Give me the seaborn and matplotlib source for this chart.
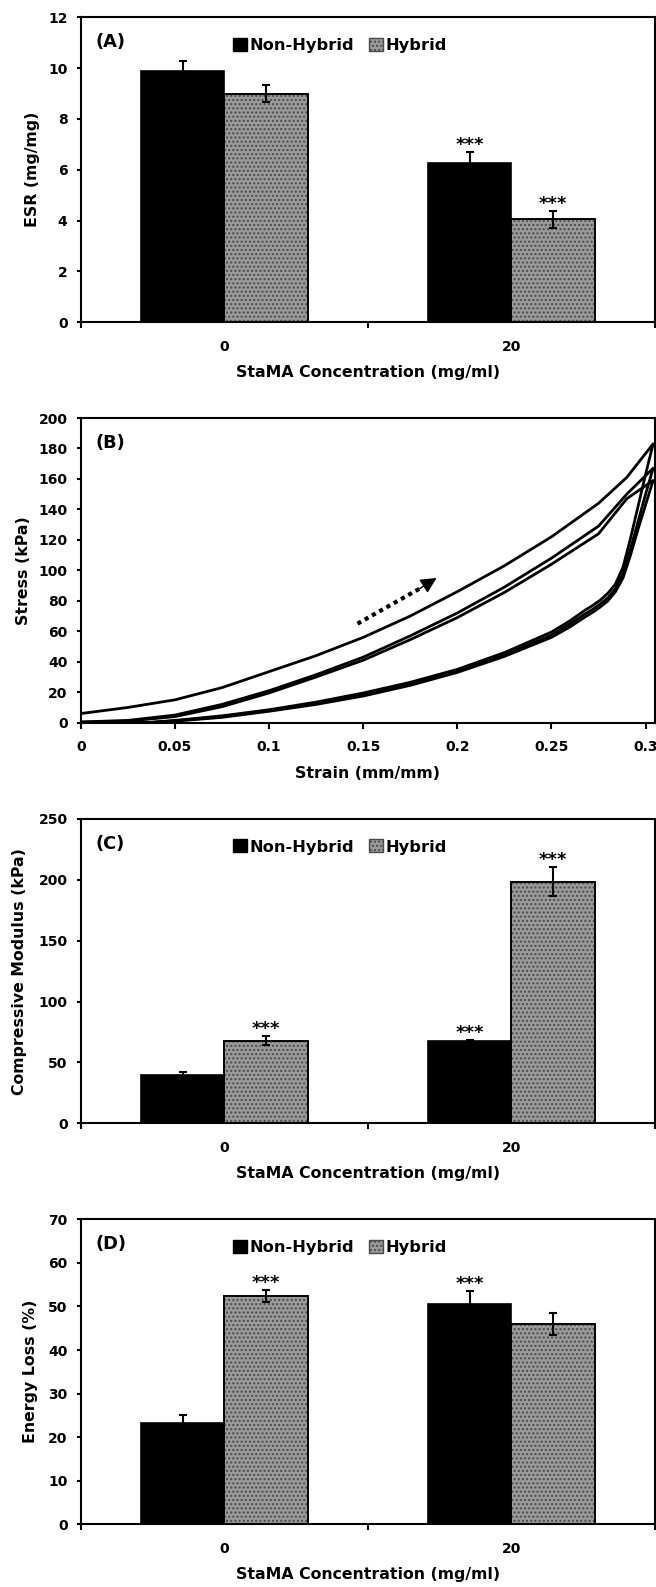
import numpy as np
import pandas as pd
import matplotlib
matplotlib.use("Agg")
import matplotlib.pyplot as plt
from matplotlib.patches import Patch, Rectangle
from matplotlib.ticker import FuncFormatter
import seaborn as sns


# ---- values ----
concentrations = ["0", "20"]
groups = ["Non-Hybrid", "Hybrid"]

# (A) equilibrium swelling ratio
esr_nonhybrid = [9.9, 6.25]
esr_hybrid = [9.0, 4.05]
esr_err_nonhybrid = [0.4, 0.45]
esr_err_hybrid = [0.32, 0.33]
esr_sig_nonhybrid = [False, True]
esr_sig_hybrid = [False, True]

# (C) compressive modulus
mod_nonhybrid = [39.4, 67.5]
mod_hybrid = [67.9, 198.5]
mod_err_nonhybrid = [2.5, 1.0]
mod_err_hybrid = [3.5, 12.0]
mod_sig_nonhybrid = [False, True]
mod_sig_hybrid = [True, True]

# (D) energy loss
loss_nonhybrid = [23.2, 50.6]
loss_hybrid = [52.4, 45.9]
loss_err_nonhybrid = [2.0, 2.9]
loss_err_hybrid = [1.4, 2.5]
loss_sig_nonhybrid = [False, True]
loss_sig_hybrid = [True, False]

# (B) cyclic stress-strain curves
strain_load = [0, 0.025, 0.05, 0.075, 0.1, 0.125, 0.15, 0.175, 0.2, 0.225,
               0.25, 0.275, 0.29, 0.304]
stress_load_1 = [6, 10, 15, 23, 33.5, 44, 56, 70, 86, 103, 122, 144, 161, 183]
stress_load_2 = [0.5, 1.5, 5, 12, 21, 31.5, 43, 57, 72, 89, 108, 129, 150, 167]
stress_load_3 = [0.3, 1, 4, 10.5, 19.5, 30, 41, 54.5, 69, 85.5, 104, 124, 147, 159]

strain_unload = [0.304, 0.300, 0.296, 0.292, 0.288, 0.284, 0.28, 0.276, 0.272,
                 0.268, 0.26, 0.25, 0.225, 0.2, 0.175, 0.15, 0.125, 0.1, 0.075,
                 0.05, 0.035, 0]
stress_unload_1 = [183, 163, 142, 121, 102, 91, 85, 80.5, 77, 74, 67, 59.5,
                   46, 35, 26.5, 19.5, 13.5, 8.5, 4.5, 1.5, 0, 0]
stress_unload_2 = [167, 150, 132, 114, 98, 88, 82, 78, 74.5, 71.5, 65, 57.5,
                   44.5, 34, 25.5, 18.5, 12.5, 8, 4, 1.2, 0, 0]
stress_unload_3 = [159, 143, 127, 110, 95, 86, 80, 76, 72.5, 69.5, 63, 56,
                   43.5, 33, 24.5, 17.5, 12, 7.5, 3.5, 1, 0, 0]

arrow_tail = (0.147, 65)
arrow_shaft_end = (0.180, 88)
arrow_tip = (0.189, 95)

BLACK = "#000000"
GRAY = "#9a9a9a"
DOTS = "#4a4a4a"

W, H = 656, 1587
AX_LEFT, AX_RIGHT = 80.7, 655.0

sns.set_style("white")
plt.rcParams["font.family"] = ["DejaVu Sans"]
plt.rcParams["font.weight"] = "bold"
plt.rcParams["axes.labelweight"] = "bold"
plt.rcParams["text.color"] = "black"
plt.rcParams["axes.labelcolor"] = "black"
plt.rcParams["xtick.color"] = "black"
plt.rcParams["ytick.color"] = "black"
plt.rcParams["hatch.linewidth"] = 1.0

fig = plt.figure(figsize=(W / 100, H / 100), dpi=100)


def make_axes(top, bottom):
    return fig.add_axes([AX_LEFT / W, 1 - bottom / H,
                         (AX_RIGHT - AX_LEFT) / W, (bottom - top) / H])


def style_axes(ax, letter, ylabel, xlabel, ylabel_right, height_px):
    for s in ax.spines.values():
        s.set_linewidth(1.5)
        s.set_color("black")
    ax.tick_params(axis="y", direction="out", length=3, width=1.5,
                   labelsize=10, pad=6.5, left=True)
    ax.set_ylabel(ylabel, fontsize=11.3)
    ax.yaxis.set_label_coords((ylabel_right - AX_LEFT) / (AX_RIGHT - AX_LEFT), 0.5)
    ax.set_xlabel(xlabel, fontsize=11.3)
    ax.xaxis.set_label_coords(0.5, -43 / height_px)
    ax.text(15 / (AX_RIGHT - AX_LEFT), 1 - 25 / height_px, letter,
            transform=ax.transAxes, fontsize=12.8, va="center", ha="left")
    for t in ax.get_yticklabels():
        t.set_fontweight("bold")


def bar_panel(ax, nonhyb, hyb, err_nh, err_h, sig_nh, sig_h, ymax, ystep,
              letter, ylabel, ylabel_right, height_px):
    df = pd.DataFrame({
        "conc": concentrations * 2,
        "group": [groups[0]] * 2 + [groups[1]] * 2,
        "value": list(nonhyb) + list(hyb),
    })
    sns.barplot(data=df, x="conc", y="value", hue="group", order=concentrations,
                hue_order=groups, palette={groups[0]: BLACK, groups[1]: GRAY},
                width=0.58, gap=0, edgecolor="black", linewidth=1.2,
                errorbar=None, legend=False, ax=ax)
    # dotted texture on hybrid bars
    for bar in ax.containers[1]:
        ax.add_patch(Rectangle(bar.get_xy(), bar.get_width(), bar.get_height(),
                               fill=False, hatch="....", edgecolor=DOTS,
                               linewidth=0, zorder=bar.get_zorder() + 0.1))
        ax.add_patch(Rectangle(bar.get_xy(), bar.get_width(), bar.get_height(),
                               fill=False, edgecolor="black", linewidth=1.2,
                               zorder=bar.get_zorder() + 0.2))
    for cont, errs, sigs in zip(ax.containers[:2], [err_nh, err_h], [sig_nh, sig_h]):
        xs = [b.get_x() + b.get_width() / 2 for b in cont]
        ys = [b.get_height() for b in cont]
        ax.errorbar(xs, ys, yerr=errs, fmt="none", ecolor="black",
                    elinewidth=1.5, capsize=3, capthick=1.5, zorder=5)
        for x, y, e, s in zip(xs, ys, errs, sigs):
            if s:
                ax.annotate("***", (x, y + e), xytext=(0, 1.5),
                            textcoords="offset points", ha="center",
                            va="baseline", fontsize=13, fontweight="bold")
    ax.set_xlim(-0.5, 1.5)
    ax.set_ylim(0, ymax)
    ax.set_yticks(np.arange(0, ymax + ystep / 2, ystep))
    ax.set_xticks([0, 1])
    ax.set_xticklabels(concentrations, fontsize=10, fontweight="bold")
    ax.set_xticks([-0.5, 0.5, 1.5], minor=True)
    ax.tick_params(axis="x", which="major", length=0, pad=12.5)
    ax.tick_params(axis="x", which="minor", length=4.5, width=1.5,
                   direction="out", bottom=True)
    style_axes(ax, letter, ylabel, "StaMA Concentration (mg/ml)",
               ylabel_right, height_px)
    handles = [Patch(facecolor=BLACK, edgecolor="black", linewidth=1),
               Patch(facecolor=GRAY, edgecolor=DOTS, hatch="....", linewidth=1)]
    ax.legend(handles, groups, loc="center",
              bbox_to_anchor=(0.4515, 1 - 28 / height_px), ncol=2,
              frameon=False, handlelength=0.85, handleheight=0.85,
              handletextpad=0.15, columnspacing=0.9, fontsize=11.7,
              borderpad=0, borderaxespad=0)


# (A)
axA = make_axes(17.3, 322.3)
bar_panel(axA, esr_nonhybrid, esr_hybrid, esr_err_nonhybrid, esr_err_hybrid,
          esr_sig_nonhybrid, esr_sig_hybrid, 12, 2, "(A)", "ESR (mg/mg)",
          39.7, 305)

# (B)
axB = make_axes(418.0, 722.7)
curves = []
for i, (ld, ul) in enumerate([(stress_load_1, stress_unload_1),
                              (stress_load_2, stress_unload_2),
                              (stress_load_3, stress_unload_3)]):
    curves.append(pd.DataFrame({"strain": strain_load + strain_unload,
                                "stress": ld + ul, "cycle": i + 1}))
curves = pd.concat(curves, ignore_index=True)
sns.lineplot(data=curves, x="strain", y="stress", units="cycle",
             estimator=None, sort=False, color="black", linewidth=2.0, ax=axB)
axB.plot([arrow_tail[0], arrow_shaft_end[0]], [arrow_tail[1], arrow_shaft_end[1]],
         color="black", linewidth=3, linestyle=(0, (1, 1)))
axB.annotate("", xy=arrow_tip, xytext=arrow_shaft_end,
             arrowprops=dict(arrowstyle="-|>", color="black", linewidth=1,
                             mutation_scale=24, shrinkA=0, shrinkB=0))
axB.set_xlim(0, 0.305)
axB.set_ylim(0, 200)
axB.set_xticks(np.arange(0, 0.301, 0.05))
axB.set_yticks(np.arange(0, 201, 20))
axB.xaxis.set_major_formatter(FuncFormatter(lambda v, p: f"{v:g}"))
axB.tick_params(axis="x", direction="out", length=4.5, width=1.5,
                labelsize=10, pad=8, bottom=True)
for t in axB.get_xticklabels():
    t.set_fontweight("bold")
style_axes(axB, "(B)", "Stress (kPa)", "Strain (mm/mm)", 31.5, 304.7)

# (C)
axC = make_axes(819.0, 1123.3)
bar_panel(axC, mod_nonhybrid, mod_hybrid, mod_err_nonhybrid, mod_err_hybrid,
          mod_sig_nonhybrid, mod_sig_hybrid, 250, 50, "(C)",
          "Compressive Modulus (kPa)", 26.7, 304.3)

# (D)
axD = make_axes(1219.3, 1524.3)
bar_panel(axD, loss_nonhybrid, loss_hybrid, loss_err_nonhybrid, loss_err_hybrid,
          loss_sig_nonhybrid, loss_sig_hybrid, 70, 10, "(D)", "Energy Loss (%)",
          38.0, 305)

fig.savefig("out.png", dpi=100)
